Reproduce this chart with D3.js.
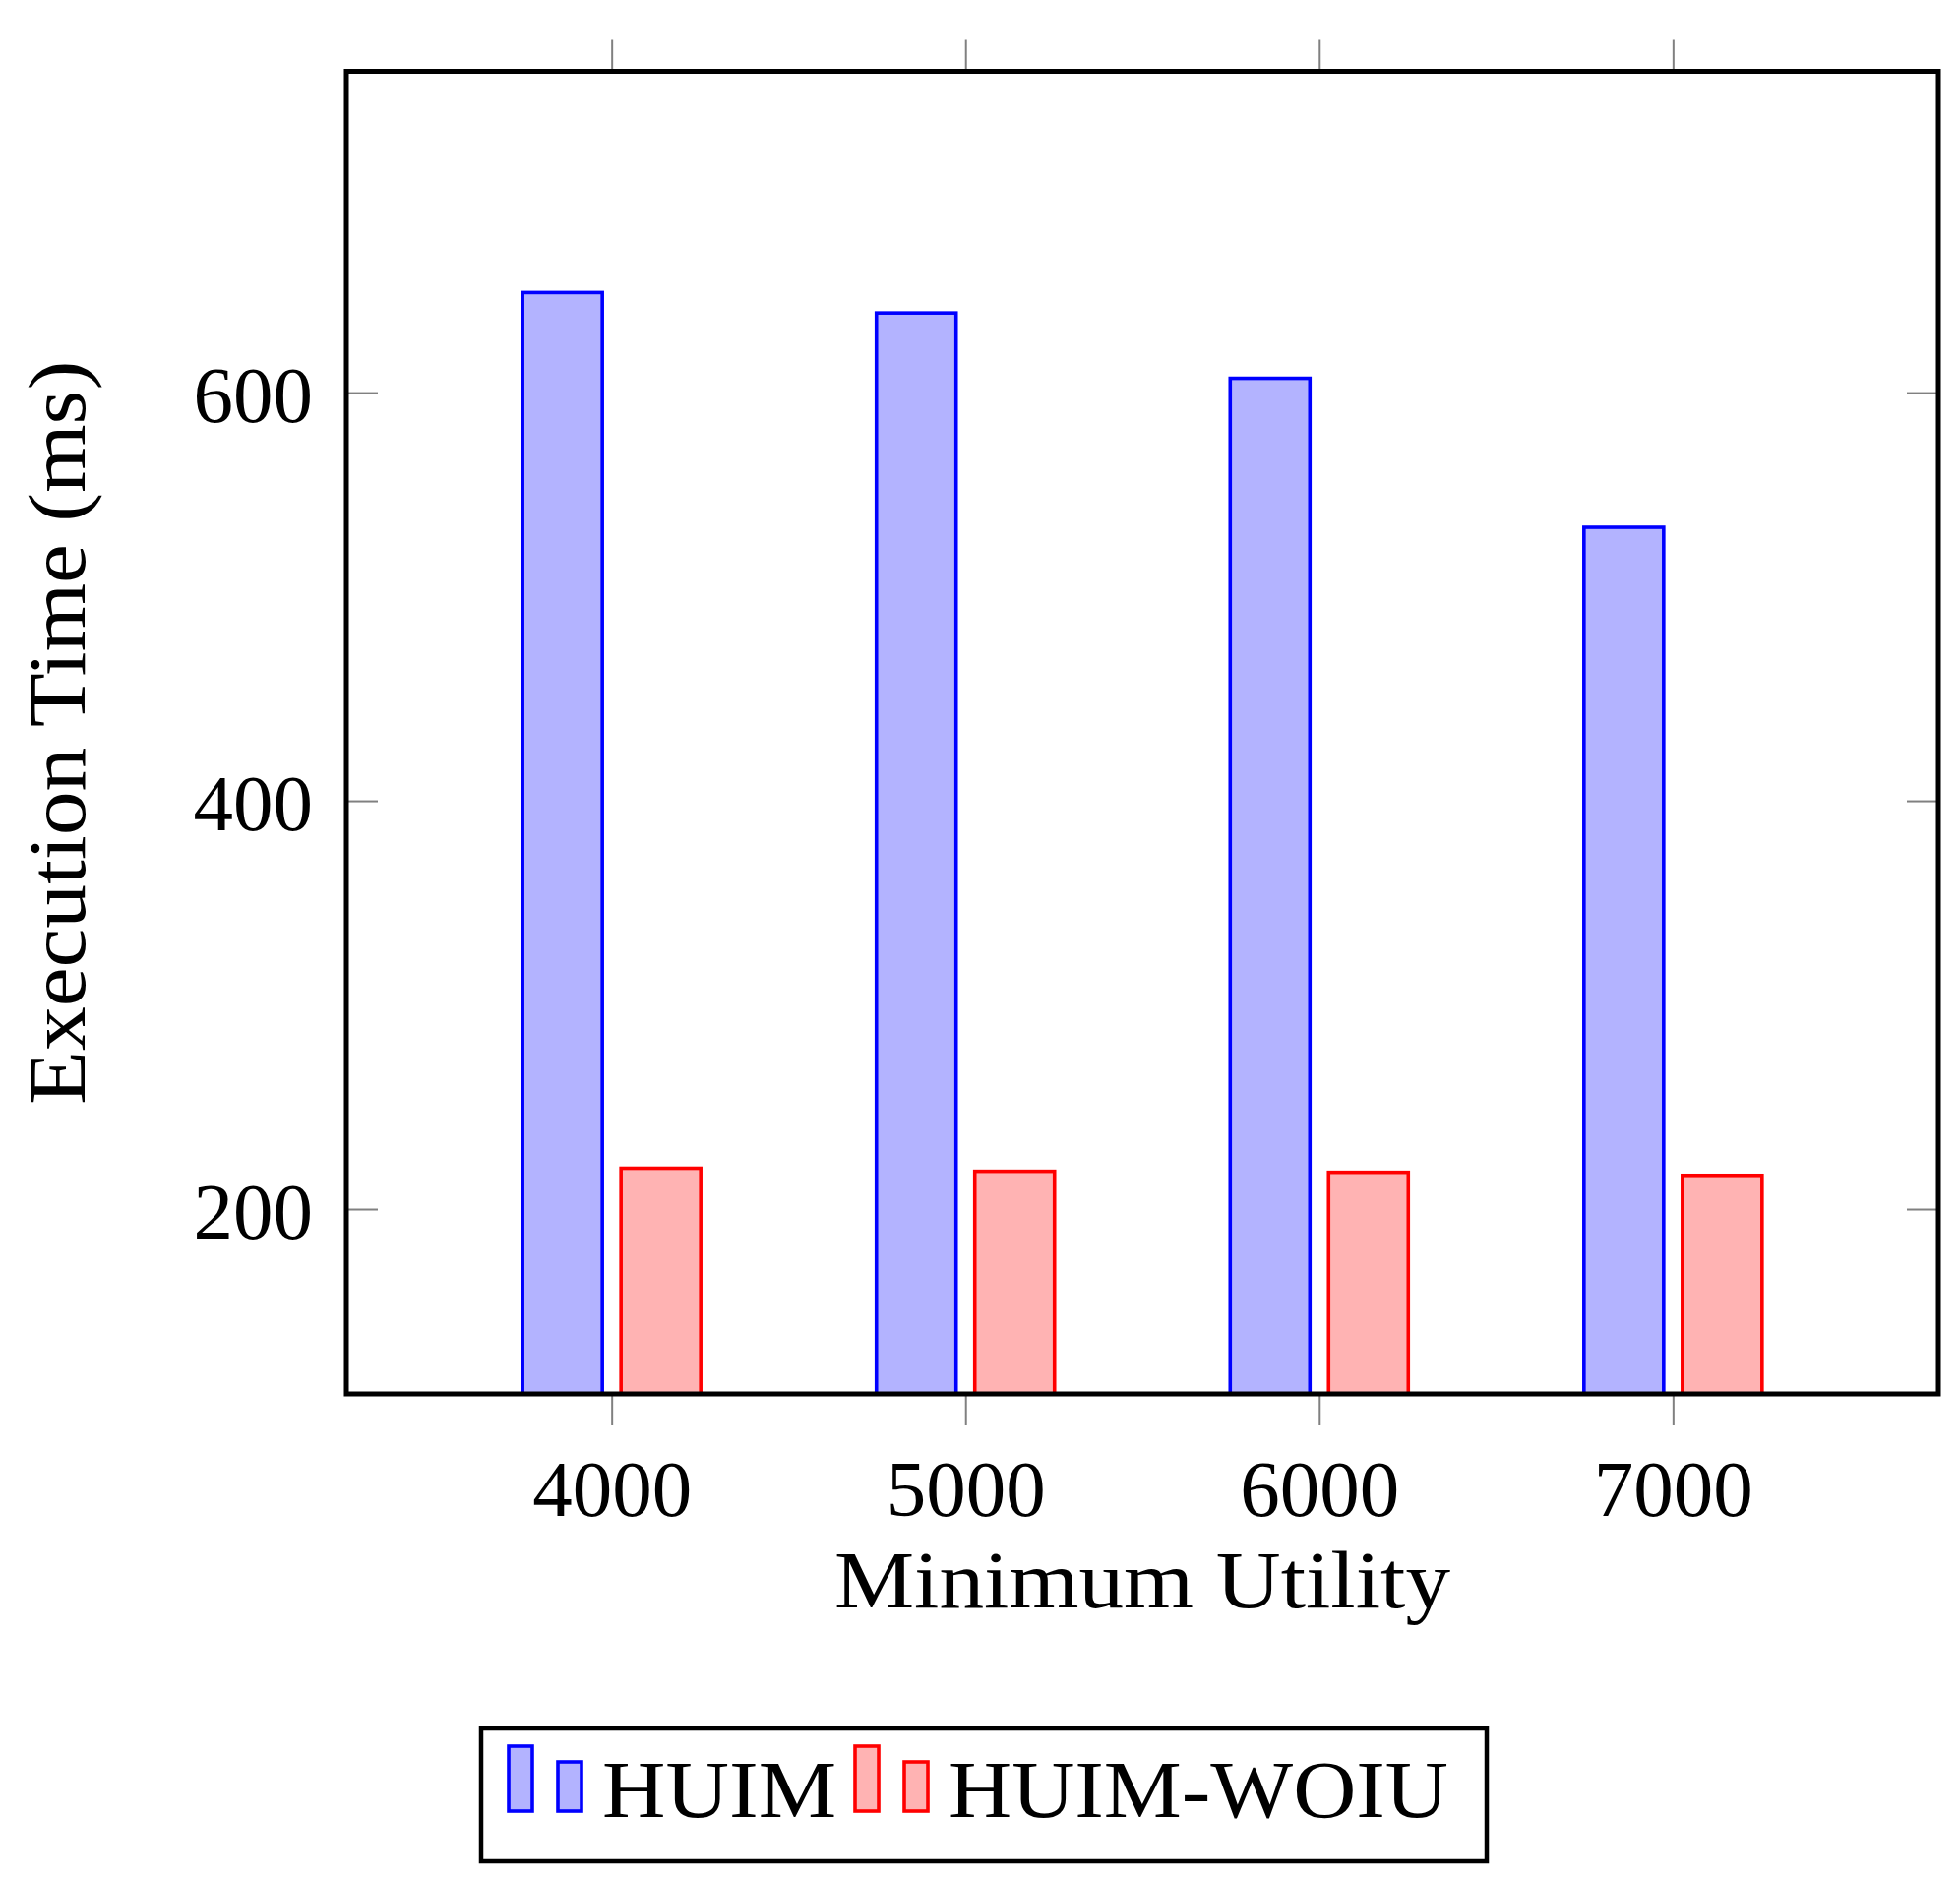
<!DOCTYPE html>
<meta charset="utf-8">
<title>Execution time vs minimum utility</title>

<style>

html, body {
  margin: 0;
  padding: 0;
  width: 1992px;
  height: 1908px;
  background: #fff;
}

svg {
  width: 1992px;
  height: 1908px;
}

text {
  font-family: "Liberation Serif", "DejaVu Serif", serif;
  fill: #000;
}

.tick line {
  stroke: #808080;
  stroke-width: 2;
}

.domain {
  display: none;
}

</style>

<body>
<svg></svg>
</body>

<script src="https://d3js.org/d3.v7.min.js"></script>
<script>

var categories = [4000, 5000, 6000, 7000];
var huim = [649, 639, 607, 534];
var huimWoiu = [220, 218.5, 218, 216.5];
var yTicks = [200, 400, 600];

var series = [
  {name: 'HUIM', values: huim, stroke: '#0000ff', fill: '#b3b3ff', shift: -50},
  {name: 'HUIM-WOIU', values: huimWoiu, stroke: '#ff0000', fill: '#ffb3b3', shift: 50}
];

var svg = d3.select("svg");

// note: "top" is taken by window.top, so plot edges get their own names
var plotLeft = 352, plotRight = 1970, plotTop = 72.5, plotBottom = 1417;

var x = d3.scaleLinear()
    .domain([3250, 7750])
    .range([plotLeft, plotRight]);

var y = d3.scaleLinear()
    .domain([109.4, 757.4])
    .range([plotBottom, plotTop]);

var barWidth = 81;

// bars
series.forEach(function(s) {
  svg.append("g")
    .selectAll("rect")
    .data(s.values)
    .enter().append("rect")
      .attr("x", function(d, i) { return x(categories[i]) + s.shift - barWidth / 2; })
      .attr("y", function(d) { return y(d); })
      .attr("width", barWidth)
      .attr("height", function(d) { return y.range()[0] - y(d); })
      .style("fill", s.fill)
      .style("stroke", s.stroke)
      .style("stroke-width", 3.6);
});

// axes
var fontSize = 81;

svg.append("g")
    .attr("transform", "translate(0," + plotBottom + ")")
    .call(d3.axisBottom(x).tickValues(categories).tickFormat(d3.format("d"))
      .tickSizeInner(32).tickSizeOuter(0).tickPadding(34))
    .call(function(g) {
      g.selectAll("text")
        .attr("font-size", fontSize)
        .style("font-family", '"Liberation Serif", "DejaVu Serif", serif');
    });

svg.append("g")
    .attr("transform", "translate(0," + plotTop + ")")
    .call(d3.axisTop(x).tickValues(categories).tickFormat("")
      .tickSizeInner(32).tickSizeOuter(0));

svg.append("g")
    .attr("transform", "translate(" + plotLeft + ",0)")
    .call(d3.axisLeft(y).tickValues(yTicks).tickFormat(d3.format("d"))
      .tickSizeInner(-32).tickSizeOuter(0).tickPadding(34))
    .call(function(g) {
      g.selectAll("text")
        .attr("font-size", fontSize)
        .attr("dy", "0.36em")
        .style("font-family", '"Liberation Serif", "DejaVu Serif", serif');
    });

svg.append("g")
    .attr("transform", "translate(" + plotRight + ",0)")
    .call(d3.axisRight(y).tickValues(yTicks).tickFormat("")
      .tickSizeInner(-32).tickSizeOuter(0));

// frame
svg.append("rect")
    .attr("x", plotLeft)
    .attr("y", plotTop)
    .attr("width", plotRight - plotLeft)
    .attr("height", plotBottom - plotTop)
    .style("fill", "none")
    .style("stroke", "#000")
    .style("stroke-width", 5);

// axis titles
svg.append("text")
    .attr("x", (plotLeft + plotRight) / 2)
    .attr("y", 1634)
    .attr("text-anchor", "middle")
    .attr("font-size", 83)
    .attr("textLength", 626)
    .attr("lengthAdjust", "spacingAndGlyphs")
    .text("Minimum Utility");

svg.append("text")
    .attr("transform", "translate(86," + (plotTop + plotBottom) / 2 + ") rotate(-90)")
    .attr("text-anchor", "middle")
    .attr("font-size", 83)
    .attr("textLength", 756)
    .attr("lengthAdjust", "spacingAndGlyphs")
    .text("Execution Time (ms)");

// legend
var legend = svg.append("g");

legend.append("rect")
    .attr("x", 489)
    .attr("y", 1757)
    .attr("width", 1022)
    .attr("height", 135)
    .style("fill", "#fff")
    .style("stroke", "#000")
    .style("stroke-width", 4.5);

var legendX = [515, 867],
    legendLen = [238, 508];

series.forEach(function(s, i) {
  var g = legend.append("g")
      .attr("transform", "translate(" + legendX[i] + ",0)");

  g.append("rect")
      .attr("x", 2).attr("y", 1775)
      .attr("width", 24).attr("height", 66)
      .style("fill", s.fill).style("stroke", s.stroke).style("stroke-width", 3.6);

  g.append("rect")
      .attr("x", 52).attr("y", 1791)
      .attr("width", 24).attr("height", 50)
      .style("fill", s.fill).style("stroke", s.stroke).style("stroke-width", 3.6);

  g.append("text")
      .attr("x", 97)
      .attr("y", 1847)
      .attr("font-size", 83)
      .attr("textLength", legendLen[i])
      .attr("lengthAdjust", "spacingAndGlyphs")
      .text(s.name);
});

</script>
